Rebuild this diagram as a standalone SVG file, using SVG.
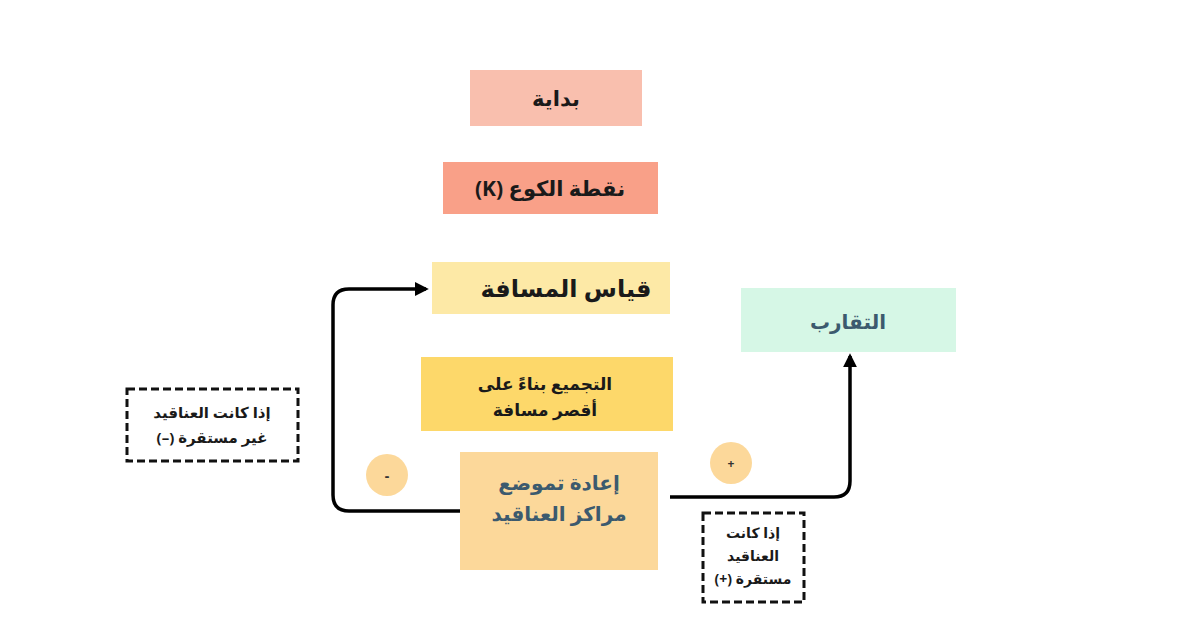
<svg xmlns="http://www.w3.org/2000/svg" width="1200" height="630" viewBox="0 0 1200 630">
<defs>
<marker id="ah" viewBox="0 0 10 10" refX="8" refY="5" markerWidth="4" markerHeight="4" orient="auto"><path d="M0,0 L10,5 L0,10 z" fill="#000"/></marker>
<style>
text{font-family:"Noto Sans","DejaVu Sans",sans-serif;font-weight:bold;text-anchor:middle;direction:rtl}
.k{fill:#1a1a1a}
.b{fill:#3c5a6e;font-weight:600}
.d{fill:none;stroke:#111;stroke-width:3;stroke-dasharray:8,4}
.c{fill:none;stroke:#000;stroke-width:3.5}
</style>
</defs>
<rect width="1200" height="630" fill="#fff"/>
<g id="start"><rect x="470" y="70" width="172" height="56" fill="#f9bfae"/><text class="k" x="556" y="106" font-size="21">بداية</text></g>
<g id="k"><rect x="443" y="162" width="215" height="52" fill="#f9a088"/><text class="k" x="550" y="196" font-size="21">نقطة الكوع (K)</text></g>
<g id="dist"><rect x="432" y="262" width="238" height="52" fill="#fde9a6"/><text class="k" x="566" y="297" font-size="24">قياس المسافة</text></g>
<g id="group"><rect x="421" y="357" width="252" height="74" fill="#fdd86a"/><text class="k" x="545" y="390" font-size="17">التجميع بناءً على</text><text class="k" x="545" y="416" font-size="17">أقصر مسافة</text></g>
<g id="reloc"><rect x="460" y="452" width="198" height="118" fill="#fcd89a"/><text class="b" x="559" y="490" font-size="20">إعادة تموضع</text><text class="b" x="559" y="521" font-size="20">مراكز العناقيد</text></g>
<g id="conv"><rect x="741" y="288" width="215" height="64" fill="#d6f7e6"/><text class="b" x="848" y="329" font-size="20">التقارب</text></g>
<g id="minus"><circle cx="387" cy="475" r="21" fill="#fcd89a"/><text x="387" y="481" font-size="14" fill="#333">-</text></g>
<g id="plus"><circle cx="731" cy="463" r="21" fill="#fcd89a"/><text x="731" y="468" font-size="12" fill="#333">+</text></g>
<g id="unstable"><rect class="d" x="127" y="389" width="171" height="72"/><text class="k" x="212" y="418" font-size="15">إذا كانت العناقيد</text><text class="k" x="212" y="443" font-size="15">غير مستقرة (–)</text></g>
<g id="stable"><rect class="d" x="703" y="513" width="101" height="89"/><text class="k" x="753" y="538" font-size="14">إذا كانت</text><text class="k" x="753" y="561" font-size="14">العناقيد</text><text class="k" x="753" y="584" font-size="14">مستقرة (+)</text></g>
<g id="connectors">
<path class="c" d="M460,511 H349 Q333,511 333,495 V305 Q333,289 349,289 H426" marker-end="url(#ah)"/>
<path class="c" d="M670,497 H834 Q850,497 850,481 V356" marker-end="url(#ah)"/>
</g>
</svg>
